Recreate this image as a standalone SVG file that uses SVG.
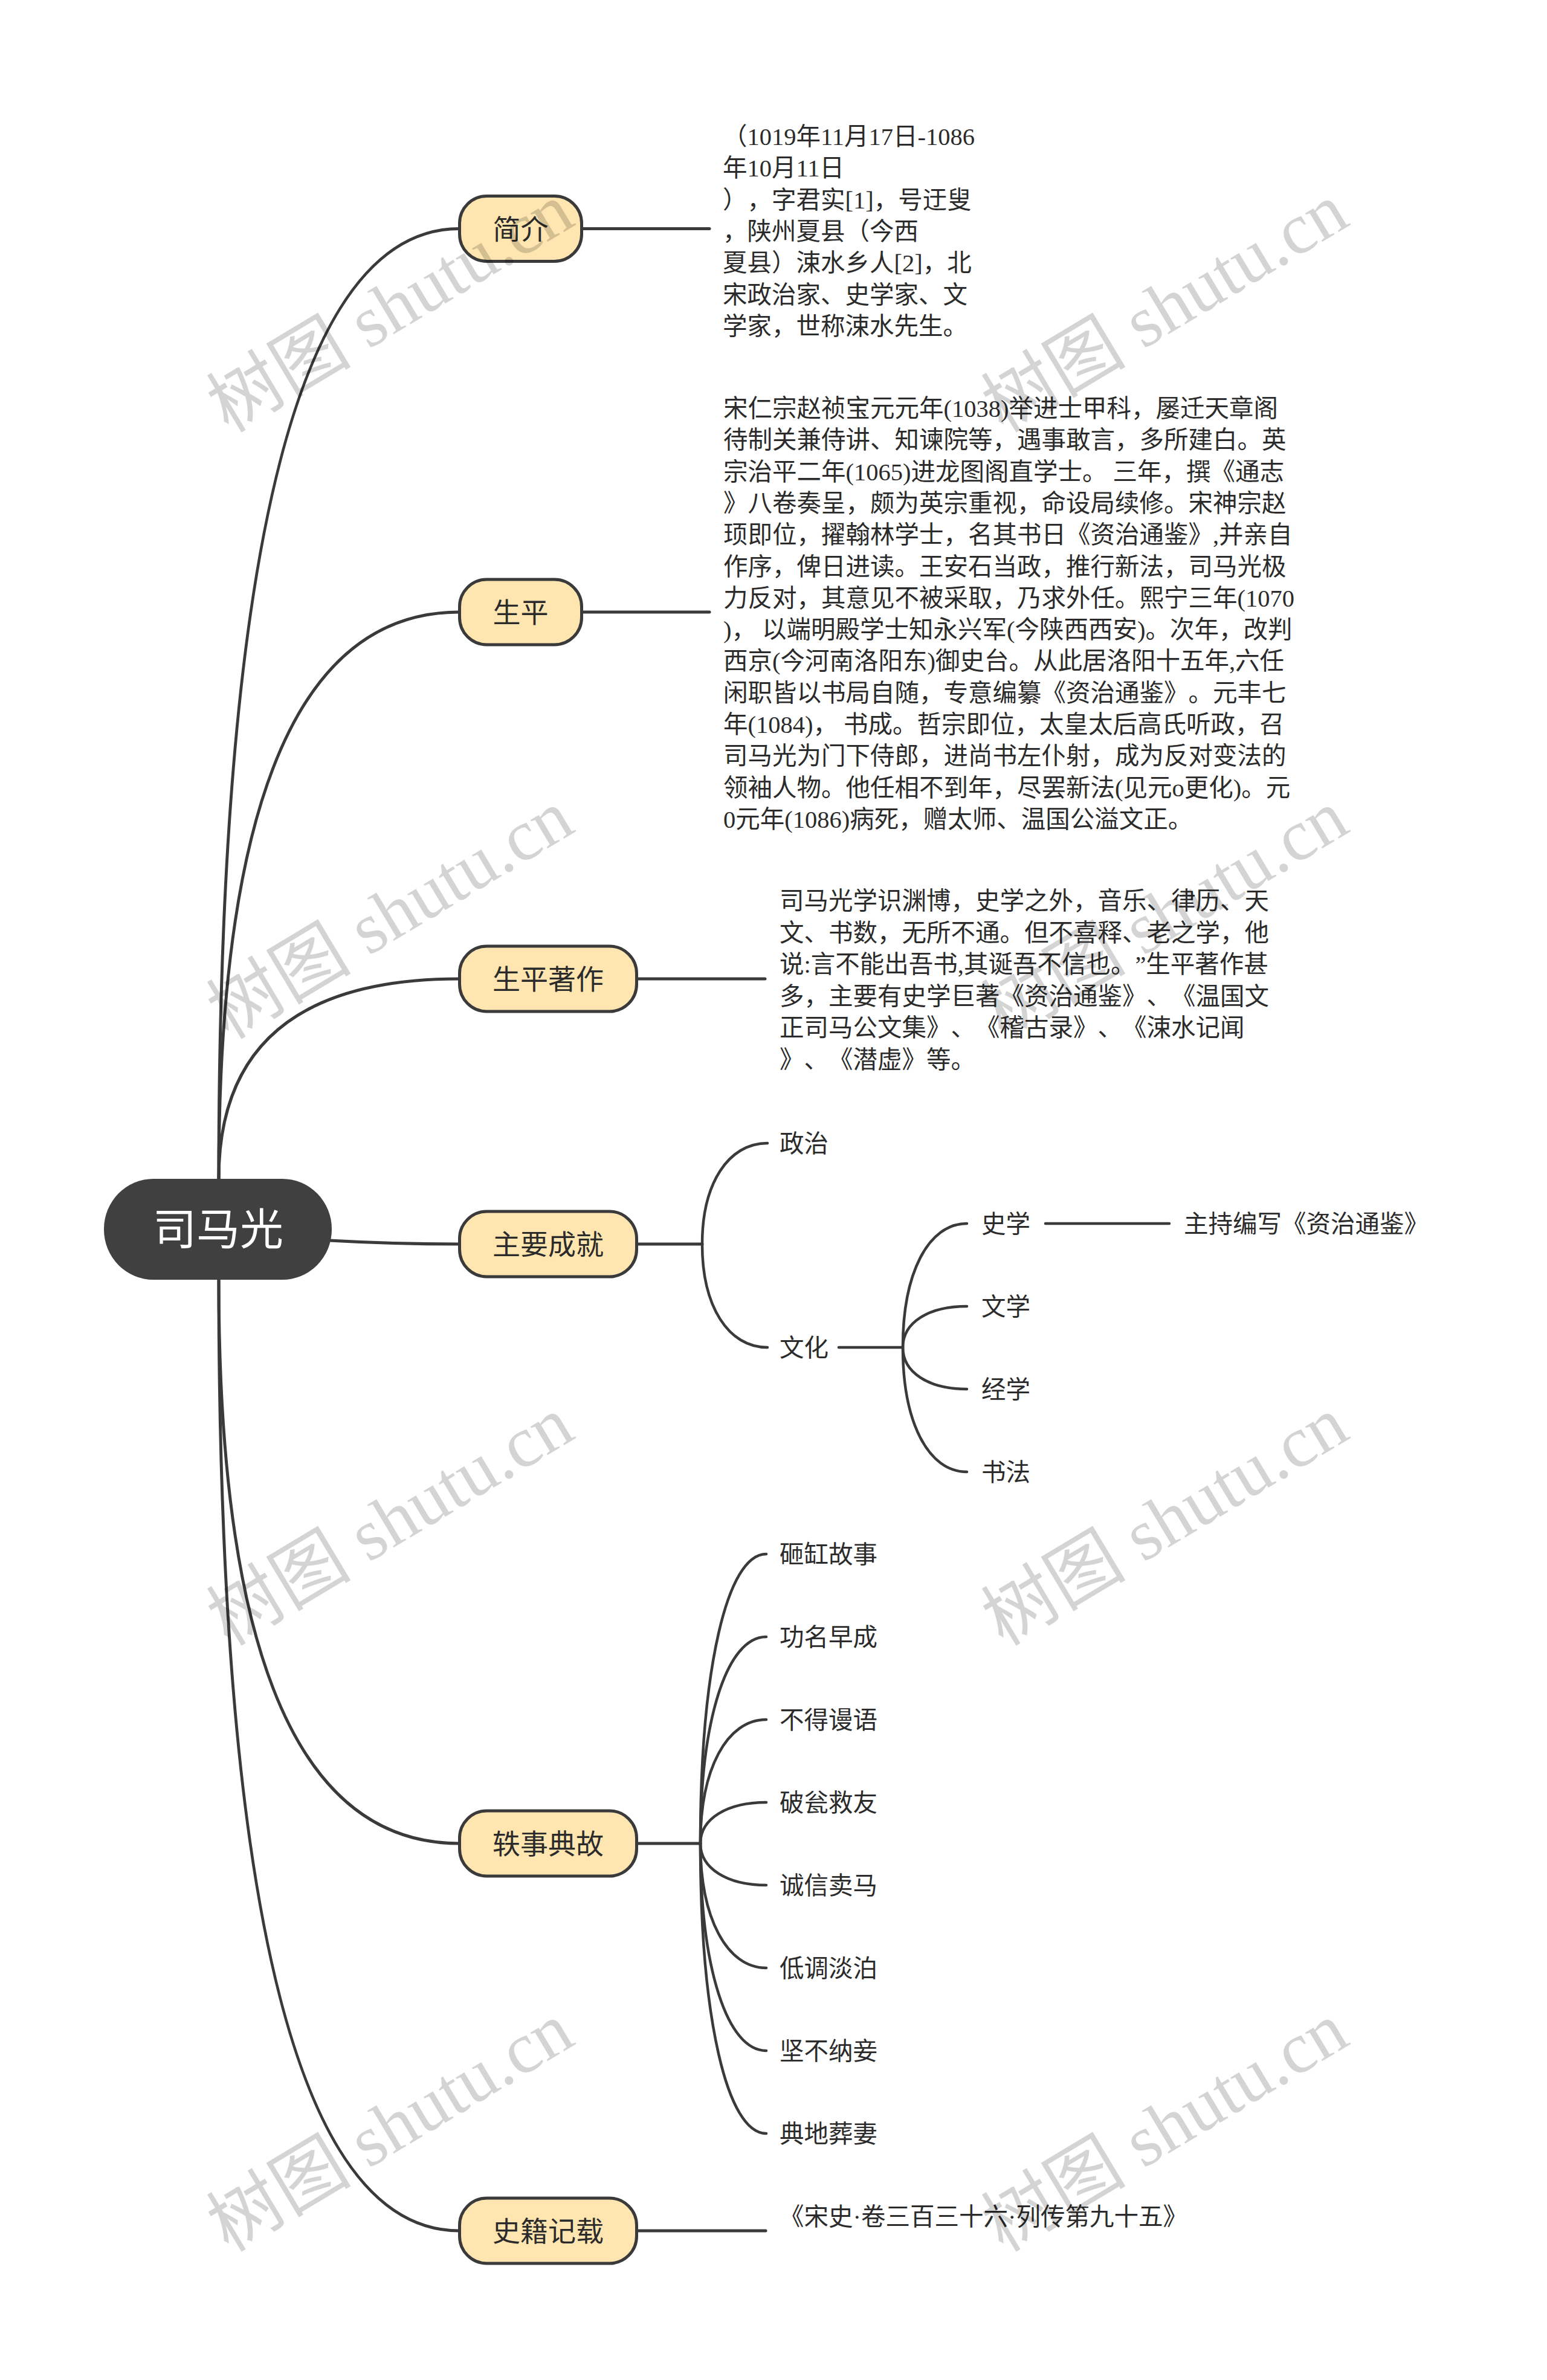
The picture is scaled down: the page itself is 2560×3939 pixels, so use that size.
<svg xmlns="http://www.w3.org/2000/svg" width="2560" height="3939" viewBox="0 0 2560 3939">
<defs>
<style>
.bg{fill:#ffffff}
.link{fill:none;stroke:#3a3a3a;stroke-width:5;stroke-linecap:round}
.sub{fill:none;stroke:#3a3a3a;stroke-width:4.5;stroke-linecap:round}
.root{fill:#404040}
.rootT{font-family:"Noto Sans CJK SC","Noto Sans",sans-serif;font-size:72px;fill:#ffffff;text-anchor:middle}
.main{fill:#ffe6b0;stroke:#3a3a3a;stroke-width:5}
.mainT{font-family:"Noto Sans CJK SC","Noto Sans",sans-serif;font-size:46px;fill:#2b2b2b;text-anchor:middle}
.body{font-family:"Liberation Serif","Noto Sans CJK SC",serif;font-size:40.5px;fill:#2b2b2b;text-spacing-trim:space-all;font-feature-settings:"chws" 0,"halt" 0}
.wm{font-family:"Liberation Serif","Noto Sans CJK SC",serif;font-size:120px;fill:#000000;fill-opacity:0.17;text-anchor:middle}
</style>
</defs>
<rect class="bg" x="0" y="0" width="2560" height="3939"/>

<g id="connectors">
<path class="link" d="M362 1951 Q362 378.5 760 378.5"/>
<path class="link" d="M362 1951 Q362 1013 760 1013"/>
<path class="link" d="M362 1951 Q362 1620 760 1620"/>
<path class="link" d="M545 2053 Q650 2059 760 2059"/>
<path class="link" d="M362 2118 Q362 3051 760 3051"/>
<path class="link" d="M362 2118 Q362 3692 760 3692"/>
<path class="link" d="M963 378.5 H1174"/>
<path class="link" d="M963 1013 H1174"/>
<path class="link" d="M1054 1620 H1266"/>
<path class="link" d="M1054 2059 H1162"/>
<path class="link" d="M1054 3051 H1159"/>
<path class="link" d="M1054 3692 H1267"/>
<path class="sub" d="M1162 2059 C1162 1959 1205 1892 1270 1892"/>
<path class="sub" d="M1162 2059 C1162 2162 1205 2230 1270 2230"/>
<path class="sub" d="M1388 2230 H1494"/>
<path class="sub" d="M1494 2230 C1494 2107 1536 2025 1600 2025"/>
<path class="sub" d="M1494 2230 C1494 2189 1536 2162 1600 2162"/>
<path class="sub" d="M1494 2230 C1494 2271 1536 2299 1600 2299"/>
<path class="sub" d="M1494 2230 C1494 2354 1536 2436 1600 2436"/>
<path class="sub" d="M1730 2025 H1935"/>
<path class="sub" d="M1159 3051 C1159 2762 1203 2572 1268 2572"/>
<path class="sub" d="M1159 3051 C1159 2845 1203 2709 1268 2709"/>
<path class="sub" d="M1159 3051 C1159 2927 1203 2846 1268 2846"/>
<path class="sub" d="M1159 3051 C1159 3010 1203 2983 1268 2983"/>
<path class="sub" d="M1159 3051 C1159 3092 1203 3120 1268 3120"/>
<path class="sub" d="M1159 3051 C1159 3175 1203 3257 1268 3257"/>
<path class="sub" d="M1159 3051 C1159 3257 1203 3394 1268 3394"/>
<path class="sub" d="M1159 3051 C1159 3340 1203 3531 1268 3531"/>
</g>

<g id="root">
<rect class="root" x="172" y="1951" width="377" height="167" rx="82" ry="83"/>
<text class="rootT" x="361" y="2060">司马光</text>
</g>

<g id="n-jianjie">
<rect class="main" x="760.5" y="324.5" width="202" height="108" rx="45"/>
<text class="mainT" x="861.5" y="395.5">简介</text>
</g>
<g id="t-jianjie">
<text class="body" x="1196" y="240">
<tspan x="1196" y="240">（1019年11月17日-1086</tspan>
<tspan x="1196" y="292.3">年10月11日</tspan>
<tspan x="1196" y="344.6">），字君实[1]，号迂叟</tspan>
<tspan x="1196" y="396.9">，陕州夏县（今西</tspan>
<tspan x="1196" y="449.2">夏县）涑水乡人[2]，北</tspan>
<tspan x="1196" y="501.5">宋政治家、史学家、文</tspan>
<tspan x="1196" y="553.8">学家，世称涑水先生。</tspan>
</text>
</g>

<g id="n-shengping">
<rect class="main" x="760.5" y="959" width="202" height="108" rx="45"/>
<text class="mainT" x="861.5" y="1030">生平</text>
</g>
<g id="t-shengping">
<text class="body">
<tspan x="1197" y="690">宋仁宗赵祯宝元元年(1038)举进士甲科，屡迁天章阁</tspan>
<tspan x="1197" y="742.3">待制关兼侍讲、知谏院等，遇事敢言，多所建白。英</tspan>
<tspan x="1197" y="794.6">宗治平二年(1065)进龙图阁直学士。 三年，撰《通志</tspan>
<tspan x="1197" y="846.9">》八卷奏呈，颇为英宗重视，命设局续修。宋神宗赵</tspan>
<tspan x="1197" y="899.2">顼即位，擢翰林学士，名其书日《资治通鉴》,并亲自</tspan>
<tspan x="1197" y="951.5">作序，俾日进读。王安石当政，推行新法，司马光极</tspan>
<tspan x="1197" y="1003.8">力反对，其意见不被采取，乃求外任。熙宁三年(1070</tspan>
<tspan x="1197" y="1056.1">)， 以端明殿学士知永兴军(今陕西西安)。次年，改判</tspan>
<tspan x="1197" y="1108.4">西京(今河南洛阳东)御史台。从此居洛阳十五年,六任</tspan>
<tspan x="1197" y="1160.7">闲职皆以书局自随，专意编纂《资治通鉴》。元丰七</tspan>
<tspan x="1197" y="1213">年(1084)， 书成。哲宗即位，太皇太后高氏听政，召</tspan>
<tspan x="1197" y="1265.3">司马光为门下侍郎，进尚书左仆射，成为反对变法的</tspan>
<tspan x="1197" y="1317.6">领袖人物。他任相不到年，尽罢新法(见元o更化)。元</tspan>
<tspan x="1197" y="1369.9">0元年(1086)病死，赠太师、温国公溢文正。</tspan>
</text>
</g>

<g id="n-zhuzuo">
<rect class="main" x="760.5" y="1566" width="293" height="108" rx="45"/>
<text class="mainT" x="907" y="1637">生平著作</text>
</g>
<g id="t-zhuzuo">
<text class="body">
<tspan x="1290" y="1505">司马光学识渊博，史学之外，音乐、律历、天</tspan>
<tspan x="1290" y="1557.6">文、书数，无所不通。但不喜释、老之学，他</tspan>
<tspan x="1290" y="1610.2">说:言不能出吾书,其诞吾不信也。”生平著作甚</tspan>
<tspan x="1290" y="1662.8">多，主要有史学巨著《资治通鉴》、《温国文</tspan>
<tspan x="1290" y="1715.4">正司马公文集》、《稽古录》、《涑水记闻</tspan>
<tspan x="1290" y="1768">》、《潜虚》等。</tspan>
</text>
</g>

<g id="n-chengjiu">
<rect class="main" x="760.5" y="2005" width="293" height="108" rx="45"/>
<text class="mainT" x="907" y="2076">主要成就</text>
</g>
<g id="n-zhengzhi"><text class="body" x="1290" y="1907">政治</text></g>
<g id="n-wenhua"><text class="body" x="1290" y="2245">文化</text></g>
<g id="n-shixue"><text class="body" x="1624" y="2040">史学</text></g>
<g id="n-zhuchi"><text class="body" x="1959" y="2040">主持编写《资治通鉴》</text></g>
<g id="n-wenxue"><text class="body" x="1624" y="2177">文学</text></g>
<g id="n-jingxue"><text class="body" x="1624" y="2314">经学</text></g>
<g id="n-shufa"><text class="body" x="1624" y="2451">书法</text></g>

<g id="n-yishi">
<rect class="main" x="760.5" y="2997" width="293" height="108" rx="45"/>
<text class="mainT" x="907" y="3068">轶事典故</text>
</g>
<g id="n-y1"><text class="body" x="1290" y="2587">砸缸故事</text></g>
<g id="n-y2"><text class="body" x="1290" y="2724">功名早成</text></g>
<g id="n-y3"><text class="body" x="1290" y="2861">不得谩语</text></g>
<g id="n-y4"><text class="body" x="1290" y="2998">破瓮救友</text></g>
<g id="n-y5"><text class="body" x="1290" y="3135">诚信卖马</text></g>
<g id="n-y6"><text class="body" x="1290" y="3272">低调淡泊</text></g>
<g id="n-y7"><text class="body" x="1290" y="3409">坚不纳妾</text></g>
<g id="n-y8"><text class="body" x="1290" y="3546">典地葬妻</text></g>

<g id="n-shiji">
<rect class="main" x="760.5" y="3638" width="293" height="108" rx="45"/>
<text class="mainT" x="907" y="3709">史籍记载</text>
</g>
<g id="t-shiji"><text class="body" x="1290" y="3683">《宋史·卷三百三十六·列传第九十五》</text></g>

<g id="watermarks">
<text class="wm" x="646" y="550" transform="rotate(-31 646 510)">树图 shutu.cn</text>
<text class="wm" x="1928" y="550" transform="rotate(-31 1928 510)">树图 shutu.cn</text>
<text class="wm" x="646" y="1554" transform="rotate(-31 646 1514)">树图 shutu.cn</text>
<text class="wm" x="1928" y="1554" transform="rotate(-31 1928 1514)">树图 shutu.cn</text>
<text class="wm" x="646" y="2558" transform="rotate(-31 646 2518)">树图 shutu.cn</text>
<text class="wm" x="1928" y="2558" transform="rotate(-31 1928 2518)">树图 shutu.cn</text>
<text class="wm" x="646" y="3561" transform="rotate(-31 646 3521)">树图 shutu.cn</text>
<text class="wm" x="1928" y="3561" transform="rotate(-31 1928 3521)">树图 shutu.cn</text>
</g>
</svg>
